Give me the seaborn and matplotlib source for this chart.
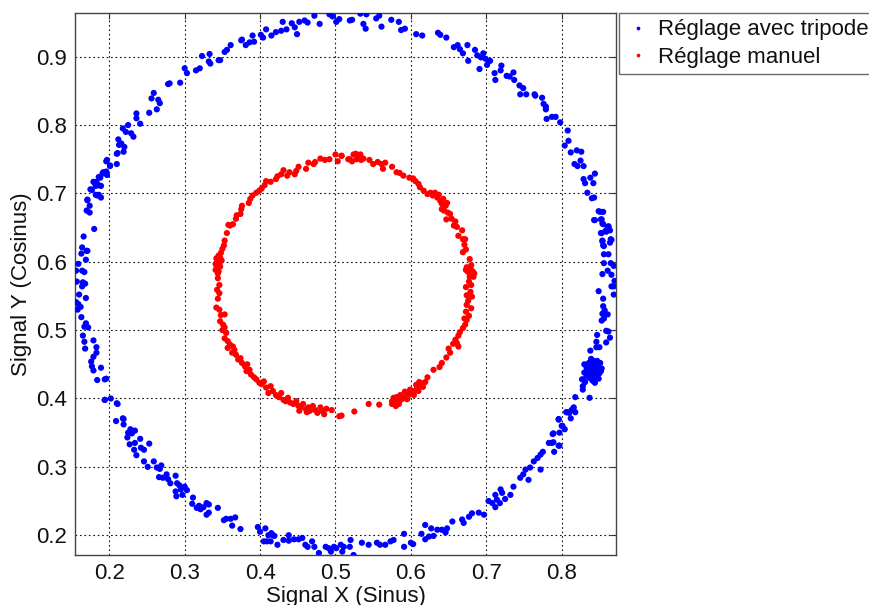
import pandas as pd
import matplotlib
matplotlib.use("Agg")
import matplotlib.pyplot as plt
import seaborn as sns

# --- blue ring: "Réglage avec tripode" (arc by arc) ---
blue_top_left = [
    (0.171, 0.691), (0.182, 0.698), (0.186, 0.698), (0.175, 0.706), (0.182, 0.712),
    (0.186, 0.712), (0.179, 0.717), (0.186, 0.724), (0.191, 0.729), (0.196, 0.732),
    (0.197, 0.749), (0.201, 0.741), (0.211, 0.759), (0.213, 0.771), (0.212, 0.779),
    (0.216, 0.773), (0.220, 0.768), (0.218, 0.795), (0.222, 0.790), (0.225, 0.800),
    (0.229, 0.788), (0.232, 0.783), (0.236, 0.810), (0.236, 0.817), (0.241, 0.802),
    (0.253, 0.818), (0.256, 0.839), (0.259, 0.847), (0.263, 0.823), (0.265, 0.837),
    (0.267, 0.832), (0.278, 0.860), (0.280, 0.861), (0.294, 0.862), (0.300, 0.883),
    (0.303, 0.876), (0.315, 0.880), (0.320, 0.883), (0.323, 0.901), (0.332, 0.893),
    (0.334, 0.890), (0.333, 0.904), (0.345, 0.895), (0.347, 0.895), (0.353, 0.907),
    (0.356, 0.910), (0.361, 0.917), (0.376, 0.925),
]
blue_top = [
    (0.375, 0.924), (0.381, 0.917), (0.386, 0.921), (0.390, 0.931), (0.392, 0.922),
    (0.401, 0.932), (0.404, 0.928), (0.408, 0.940), (0.415, 0.931), (0.421, 0.936),
    (0.430, 0.951), (0.428, 0.938), (0.435, 0.940), (0.442, 0.949), (0.446, 0.943),
    (0.449, 0.933), (0.452, 0.951), (0.459, 0.953), (0.463, 0.950), (0.472, 0.960),
    (0.479, 0.948), (0.492, 0.962), (0.496, 0.959), (0.501, 0.951), (0.505, 0.955),
    (0.519, 0.953), (0.522, 0.954), (0.533, 0.963), (0.541, 0.962), (0.537, 0.948),
    (0.540, 0.941), (0.554, 0.956), (0.558, 0.960), (0.561, 0.944), (0.574, 0.954),
    (0.584, 0.951), (0.587, 0.939), (0.592, 0.941), (0.607, 0.933), (0.615, 0.931),
    (0.636, 0.935), (0.639, 0.932), (0.647, 0.928), (0.657, 0.914), (0.662, 0.917),
    (0.665, 0.911), (0.669, 0.905), (0.675, 0.917), (0.676, 0.894), (0.685, 0.910),
    (0.688, 0.902), (0.691, 0.882), (0.693, 0.899), (0.696, 0.905), (0.699, 0.897),
    (0.701, 0.888), (0.705, 0.894), (0.711, 0.876), (0.712, 0.866), (0.719, 0.880),
    (0.720, 0.887), (0.727, 0.872), (0.731, 0.871), (0.736, 0.877), (0.737, 0.866),
    (0.744, 0.858), (0.749, 0.854), (0.745, 0.845), (0.753, 0.845), (0.764, 0.845),
]
blue_top_right = [
    (0.765, 0.843), (0.774, 0.840), (0.776, 0.831), (0.779, 0.827), (0.779, 0.823),
    (0.780, 0.809), (0.787, 0.812), (0.792, 0.812), (0.798, 0.804), (0.808, 0.792),
    (0.809, 0.777), (0.804, 0.770), (0.812, 0.760), (0.820, 0.763), (0.826, 0.761),
    (0.825, 0.748), (0.817, 0.743), (0.821, 0.740), (0.829, 0.740), (0.838, 0.723),
    (0.844, 0.729), (0.829, 0.721), (0.831, 0.715), (0.842, 0.715), (0.834, 0.701),
    (0.840, 0.693), (0.843, 0.694), (0.844, 0.661), (0.852, 0.662), (0.855, 0.655),
    (0.861, 0.650), (0.864, 0.646), (0.853, 0.642), (0.859, 0.644), (0.854, 0.631),
    (0.866, 0.632), (0.856, 0.623),
]
blue_right = [
    (0.849, 0.674), (0.851, 0.673), (0.855, 0.673), (0.843, 0.661), (0.853, 0.662),
    (0.854, 0.656), (0.862, 0.652), (0.862, 0.650), (0.858, 0.645), (0.852, 0.642),
    (0.864, 0.628), (0.865, 0.633), (0.854, 0.630), (0.855, 0.624), (0.862, 0.611),
    (0.856, 0.611), (0.856, 0.598), (0.865, 0.598), (0.869, 0.594), (0.866, 0.581),
    (0.861, 0.587), (0.854, 0.582), (0.869, 0.564), (0.870, 0.572), (0.866, 0.564),
    (0.849, 0.557), (0.869, 0.552), (0.855, 0.546), (0.855, 0.535), (0.857, 0.529),
    (0.861, 0.523), (0.854, 0.524), (0.856, 0.517), (0.853, 0.514), (0.862, 0.498),
    (0.859, 0.499), (0.864, 0.489), (0.847, 0.493), (0.859, 0.482), (0.846, 0.483),
    (0.850, 0.475), (0.846, 0.475), (0.838, 0.470),
]
blue_cluster = [
    (0.830, 0.450), (0.833, 0.445), (0.836, 0.452), (0.839, 0.448), (0.842, 0.455),
    (0.845, 0.450), (0.848, 0.446), (0.851, 0.452), (0.853, 0.444), (0.835, 0.440),
    (0.838, 0.437), (0.841, 0.442), (0.844, 0.438), (0.847, 0.441), (0.850, 0.437),
    (0.833, 0.434), (0.837, 0.430), (0.840, 0.434), (0.843, 0.430), (0.846, 0.433),
    (0.849, 0.429), (0.841, 0.426), (0.844, 0.423), (0.830, 0.438), (0.852, 0.440),
    (0.836, 0.445), (0.843, 0.447), (0.847, 0.455), (0.839, 0.458), (0.829, 0.428),
    (0.831, 0.424), (0.827, 0.428), (0.828, 0.418), (0.828, 0.413),
]
blue_bottom_right = [
    (0.837, 0.401), (0.818, 0.402), (0.818, 0.380), (0.815, 0.385), (0.812, 0.371),
    (0.810, 0.379), (0.806, 0.380), (0.804, 0.355), (0.801, 0.360), (0.796, 0.369),
    (0.797, 0.350), (0.788, 0.348), (0.797, 0.331), (0.789, 0.336), (0.816, 0.387),
    (0.813, 0.383), (0.807, 0.380), (0.796, 0.370), (0.800, 0.360), (0.789, 0.349),
    (0.796, 0.331), (0.790, 0.322), (0.787, 0.335), (0.783, 0.335), (0.775, 0.322),
    (0.772, 0.318), (0.772, 0.296), (0.768, 0.313), (0.763, 0.308), (0.758, 0.299),
    (0.752, 0.296), (0.756, 0.281), (0.749, 0.289), (0.745, 0.284), (0.736, 0.271),
    (0.732, 0.259), (0.725, 0.253), (0.721, 0.262), (0.719, 0.267), (0.712, 0.259),
    (0.718, 0.247), (0.714, 0.252), (0.712, 0.241), (0.708, 0.247), (0.703, 0.250),
]
blue_bottom = [
    (0.697, 0.230), (0.690, 0.233), (0.681, 0.232), (0.677, 0.227), (0.670, 0.218),
    (0.668, 0.223), (0.655, 0.220), (0.648, 0.210), (0.646, 0.204), (0.641, 0.208),
    (0.635, 0.208), (0.630, 0.199), (0.627, 0.210), (0.624, 0.198), (0.619, 0.194),
    (0.619, 0.215), (0.614, 0.202), (0.603, 0.187), (0.600, 0.189), (0.591, 0.202),
    (0.591, 0.183), (0.577, 0.193), (0.573, 0.191), (0.566, 0.186), (0.559, 0.186),
    (0.555, 0.189), (0.544, 0.186), (0.535, 0.189), (0.524, 0.171), (0.519, 0.183),
    (0.520, 0.193), (0.509, 0.176), (0.511, 0.183), (0.507, 0.186), (0.501, 0.181),
    (0.498, 0.183), (0.494, 0.176), (0.491, 0.181), (0.487, 0.183), (0.478, 0.174),
    (0.472, 0.183), (0.469, 0.191), (0.463, 0.183), (0.460, 0.186), (0.456, 0.196),
    (0.451, 0.194), (0.445, 0.194), (0.438, 0.192), (0.438, 0.200), (0.431, 0.193),
    (0.423, 0.186), (0.414, 0.191), (0.419, 0.199), (0.417, 0.200), (0.415, 0.203),
    (0.411, 0.200), (0.409, 0.191), (0.405, 0.191), (0.407, 0.210), (0.400, 0.205),
    (0.397, 0.212),
]
blue_bottom_left = [
    (0.374, 0.209), (0.363, 0.214), (0.367, 0.226), (0.361, 0.224), (0.355, 0.224),
    (0.352, 0.222), (0.344, 0.240), (0.332, 0.233), (0.329, 0.230), (0.332, 0.245),
    (0.329, 0.247), (0.325, 0.241), (0.321, 0.238), (0.319, 0.243), (0.316, 0.240),
    (0.310, 0.246), (0.311, 0.255), (0.303, 0.266), (0.300, 0.271), (0.297, 0.259),
    (0.295, 0.267), (0.289, 0.257), (0.288, 0.264), (0.293, 0.273), (0.290, 0.276),
    (0.288, 0.287), (0.281, 0.276), (0.278, 0.282), (0.276, 0.289), (0.271, 0.284),
    (0.266, 0.285), (0.269, 0.302), (0.267, 0.297), (0.263, 0.299), (0.259, 0.308),
    (0.251, 0.300), (0.246, 0.308), (0.253, 0.334), (0.236, 0.317), (0.246, 0.325),
    (0.242, 0.328), (0.241, 0.341), (0.233, 0.325), (0.234, 0.335), (0.227, 0.333),
    (0.234, 0.353), (0.230, 0.349), (0.228, 0.355), (0.224, 0.343), (0.225, 0.350),
    (0.219, 0.362), (0.219, 0.370), (0.209, 0.367), (0.210, 0.393), (0.194, 0.398),
]
blue_left = [
    (0.218, 0.371), (0.211, 0.392), (0.202, 0.400), (0.194, 0.398), (0.196, 0.429),
    (0.194, 0.428), (0.184, 0.427), (0.189, 0.445), (0.179, 0.441), (0.177, 0.447),
    (0.176, 0.454), (0.179, 0.461), (0.183, 0.467), (0.168, 0.473), (0.183, 0.475),
    (0.179, 0.485), (0.167, 0.483), (0.165, 0.492), (0.167, 0.505), (0.172, 0.504),
    (0.169, 0.510), (0.163, 0.519), (0.158, 0.530), (0.162, 0.534), (0.159, 0.538),
    (0.156, 0.541), (0.169, 0.547), (0.160, 0.552), (0.164, 0.564), (0.168, 0.568),
    (0.165, 0.570), (0.157, 0.571), (0.167, 0.585), (0.164, 0.587), (0.156, 0.587),
    (0.159, 0.597), (0.169, 0.603), (0.163, 0.612), (0.170, 0.616), (0.171, 0.616),
    (0.164, 0.621), (0.166, 0.637), (0.180, 0.648), (0.174, 0.672), (0.170, 0.675),
    (0.174, 0.682), (0.171, 0.690), (0.189, 0.694), (0.184, 0.697), (0.182, 0.711),
    (0.177, 0.705), (0.189, 0.711), (0.183, 0.717), (0.188, 0.723), (0.197, 0.727),
    (0.192, 0.731), (0.201, 0.740), (0.196, 0.747), (0.210, 0.743), (0.219, 0.761),
    (0.210, 0.758),
]

# --- red ring: "Réglage manuel" ---
red_left = [
    (0.533, 0.757), (0.528, 0.750), (0.522, 0.747), (0.517, 0.750), (0.508, 0.755),
    (0.503, 0.747), (0.500, 0.757), (0.492, 0.750), (0.486, 0.749), (0.480, 0.751),
    (0.473, 0.746), (0.471, 0.743), (0.464, 0.745), (0.461, 0.736), (0.451, 0.739),
    (0.448, 0.733), (0.446, 0.728), (0.439, 0.731), (0.436, 0.726), (0.431, 0.734),
    (0.428, 0.728), (0.423, 0.725), (0.421, 0.721), (0.414, 0.717), (0.408, 0.718),
    (0.406, 0.712), (0.402, 0.707), (0.399, 0.704), (0.395, 0.701), (0.390, 0.697),
    (0.387, 0.692), (0.385, 0.686), (0.376, 0.682), (0.375, 0.677), (0.374, 0.670),
    (0.369, 0.668), (0.368, 0.663), (0.364, 0.655), (0.360, 0.653), (0.358, 0.654),
    (0.356, 0.642), (0.353, 0.631), (0.352, 0.624), (0.350, 0.619), (0.348, 0.613),
    (0.345, 0.609), (0.342, 0.605), (0.344, 0.600), (0.346, 0.597), (0.342, 0.595),
    (0.347, 0.593), (0.343, 0.590), (0.345, 0.586), (0.341, 0.597), (0.349, 0.602),
    (0.344, 0.583), (0.347, 0.606), (0.341, 0.588), (0.344, 0.576), (0.346, 0.566),
    (0.343, 0.559), (0.346, 0.554), (0.344, 0.546), (0.342, 0.533), (0.346, 0.530),
    (0.348, 0.522), (0.353, 0.523), (0.347, 0.513), (0.351, 0.508), (0.353, 0.504),
    (0.350, 0.500), (0.355, 0.496), (0.353, 0.488), (0.357, 0.484), (0.360, 0.479),
    (0.357, 0.474), (0.364, 0.476), (0.366, 0.471), (0.363, 0.467), (0.368, 0.464),
    (0.371, 0.457), (0.374, 0.459), (0.376, 0.452), (0.380, 0.447), (0.383, 0.450),
    (0.382, 0.440), (0.386, 0.442), (0.388, 0.435), (0.392, 0.431), (0.395, 0.428),
    (0.399, 0.423), (0.402, 0.421), (0.405, 0.425), (0.408, 0.416), (0.411, 0.408),
    (0.414, 0.418), (0.417, 0.411), (0.421, 0.405), (0.425, 0.402), (0.428, 0.408),
    (0.431, 0.398), (0.434, 0.396), (0.437, 0.401), (0.440, 0.394), (0.444, 0.392),
    (0.448, 0.396), (0.451, 0.389), (0.454, 0.387), (0.457, 0.392), (0.461, 0.384),
    (0.464, 0.387), (0.466, 0.382), (0.470, 0.389), (0.473, 0.383), (0.476, 0.379),
    (0.480, 0.387), (0.482, 0.382), (0.485, 0.377), (0.488, 0.385), (0.462, 0.380),
    (0.452, 0.382), (0.495, 0.383), (0.505, 0.374),
]
red_right = [
    (0.508, 0.755), (0.519, 0.750), (0.524, 0.757), (0.527, 0.758), (0.531, 0.752),
    (0.534, 0.749), (0.537, 0.751), (0.545, 0.749), (0.550, 0.743), (0.556, 0.746),
    (0.561, 0.743), (0.563, 0.736), (0.566, 0.745), (0.575, 0.739), (0.581, 0.731),
    (0.585, 0.730), (0.590, 0.726), (0.598, 0.723), (0.603, 0.722), (0.606, 0.718),
    (0.610, 0.714), (0.612, 0.709), (0.617, 0.704), (0.622, 0.699), (0.626, 0.701),
    (0.629, 0.697), (0.632, 0.701), (0.635, 0.694), (0.637, 0.698), (0.639, 0.689),
    (0.641, 0.685), (0.643, 0.692), (0.646, 0.682), (0.648, 0.686), (0.641, 0.677),
    (0.644, 0.675), (0.649, 0.672), (0.652, 0.670), (0.647, 0.662), (0.654, 0.663),
    (0.659, 0.659), (0.657, 0.653), (0.661, 0.651), (0.663, 0.638), (0.668, 0.646),
    (0.669, 0.633), (0.672, 0.633), (0.671, 0.625), (0.669, 0.614), (0.673, 0.618),
    (0.678, 0.604), (0.674, 0.592), (0.679, 0.590), (0.682, 0.586), (0.676, 0.585),
    (0.681, 0.581), (0.684, 0.583), (0.673, 0.588), (0.680, 0.595), (0.678, 0.578),
    (0.683, 0.578), (0.677, 0.571), (0.680, 0.566), (0.673, 0.563), (0.679, 0.556),
    (0.674, 0.551), (0.681, 0.549), (0.676, 0.543), (0.674, 0.537), (0.680, 0.532),
    (0.673, 0.527), (0.677, 0.521), (0.671, 0.517), (0.674, 0.515), (0.672, 0.508),
    (0.669, 0.503), (0.665, 0.497), (0.663, 0.492), (0.659, 0.486), (0.661, 0.481),
    (0.656, 0.480), (0.663, 0.476), (0.650, 0.473), (0.652, 0.467), (0.647, 0.460),
    (0.641, 0.452), (0.638, 0.446), (0.630, 0.442), (0.622, 0.431), (0.619, 0.424),
    (0.615, 0.422), (0.612, 0.418), (0.609, 0.416), (0.606, 0.412), (0.603, 0.410),
    (0.599, 0.407), (0.597, 0.405), (0.594, 0.404), (0.591, 0.401), (0.588, 0.399),
    (0.585, 0.397), (0.581, 0.395), (0.578, 0.394), (0.575, 0.396), (0.577, 0.401),
    (0.581, 0.402), (0.586, 0.405), (0.592, 0.410), (0.599, 0.413), (0.607, 0.420),
    (0.611, 0.424), (0.616, 0.417), (0.610, 0.411), (0.604, 0.405), (0.595, 0.399),
    (0.584, 0.392), (0.580, 0.389), (0.575, 0.392), (0.558, 0.391), (0.544, 0.392),
    (0.525, 0.381), (0.508, 0.375),
]

x_ticks = [0.2, 0.3, 0.4, 0.5, 0.6, 0.7, 0.8]
y_ticks = [0.2, 0.3, 0.4, 0.5, 0.6, 0.7, 0.8, 0.9]
labels = ["Réglage avec tripode", "Réglage manuel"]

blue = (blue_top_left + blue_top + blue_top_right + blue_right + blue_cluster
        + blue_bottom_right + blue_bottom + blue_bottom_left + blue_left)
red = red_left + red_right
df = pd.concat([
    pd.DataFrame(blue, columns=["x", "y"]).assign(serie=labels[0]),
    pd.DataFrame(red, columns=["x", "y"]).assign(serie=labels[1]),
], ignore_index=True)

sns.set_style("white")
plt.rcParams["font.family"] = ["Liberation Sans", "DejaVu Sans"]

fig = plt.figure(figsize=(8.7, 6.05), dpi=100)
ax = fig.add_axes([0.0866, 0.0826, 0.621, 0.8954])

sns.scatterplot(data=df, x="x", y="y", hue="serie",
                palette={labels[0]: "#0000ff", labels[1]: "#ff0000"},
                s=20, linewidth=0, ax=ax, zorder=3)

ax.set_xlim(0.155, 0.8715)
ax.set_ylim(0.171, 0.9635)
ax.set_xticks(x_ticks)
ax.set_yticks(y_ticks)
ax.set_xticklabels([f"{t:.1f}" for t in x_ticks])
ax.set_yticklabels([f"{t:.1f}" for t in y_ticks])
ax.tick_params(direction="in", length=4, width=0.8, labelsize=16, color="#333333",
               labelcolor="#111111", top=True, right=True, pad=6)
ax.grid(True, color="#111111", linestyle=(0, (1.5, 2.5)), linewidth=0.8)
for sp in ax.spines.values():
    sp.set_color("#444444")
    sp.set_linewidth(1.0)

ax.set_xlabel("Signal X (Sinus)", fontsize=16, labelpad=1, color="#111111")
ax.set_ylabel("Signal Y (Cosinus)", fontsize=16, labelpad=3, color="#111111")

handles, _ = ax.get_legend_handles_labels()
leg = ax.legend(handles=handles, labels=labels, loc="upper left",
                bbox_to_anchor=(1.006, 1.0), borderaxespad=0, fontsize=16,
                frameon=True, fancybox=False, handletextpad=0.3,
                handlelength=1.2, labelspacing=0.3, borderpad=0.27,
                markerscale=0.6)
leg.get_frame().set_edgecolor("#444444")
leg.get_frame().set_linewidth(1.0)
for t in leg.get_texts():
    t.set_color("#111111")

fig.savefig("out.png", dpi=100)
